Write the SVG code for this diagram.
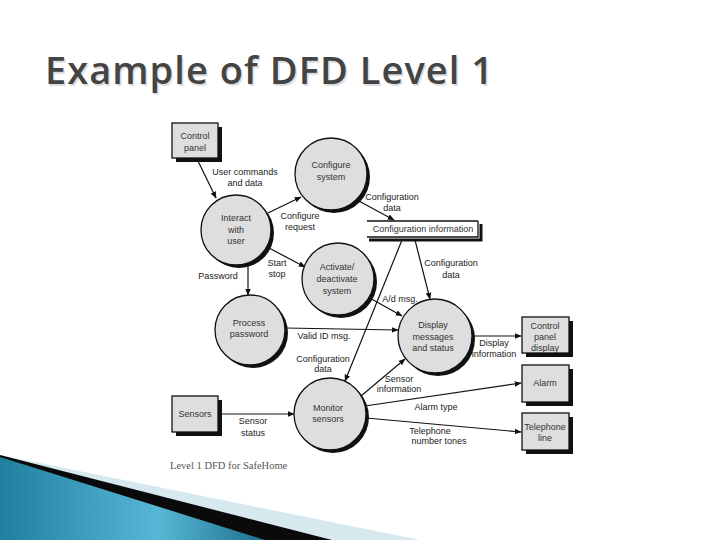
<svg xmlns="http://www.w3.org/2000/svg" width="720" height="540" viewBox="0 0 720 540">
<defs>
<marker id="ah" viewBox="0 0 10 10" refX="9" refY="5" markerWidth="7" markerHeight="7" markerUnits="userSpaceOnUse" orient="auto"><path d="M0,1 L10,5 L0,9 Z" fill="#111"/></marker>
<linearGradient id="blue" x1="0" y1="0" x2="1" y2="0">
<stop offset="0" stop-color="#1f7f9f"/>
<stop offset="0.6" stop-color="#56b8d6"/>
<stop offset="1" stop-color="#1c6f8d"/>
</linearGradient>
<style>
.t{font-family:"Liberation Sans","DejaVu Sans",sans-serif;font-size:9px;fill:#222;text-anchor:middle}
.n{font-family:"Liberation Sans","DejaVu Sans",sans-serif;font-size:9px;fill:#333;text-anchor:middle}
.c{fill:#dedede;stroke:#111;stroke-width:1.3}
.sh{fill:#111}
.b{fill:#dedede;stroke:#111;stroke-width:1.3}
.e{stroke:#111;stroke-width:1.2;fill:none;marker-end:url(#ah)}
</style>
</defs>
<rect width="720" height="540" fill="#fff"/>
<g id="title">
<text x="46.5" y="85.5" font-family="'Open Sans','DejaVu Sans',sans-serif" font-size="38" font-weight="600" fill="#dedede" textLength="448">Example of DFD Level 1</text>
<text x="45" y="84" font-family="'Open Sans','DejaVu Sans',sans-serif" font-size="38" font-weight="600" fill="#444" textLength="448">Example of DFD Level 1</text>
</g>
<g id="decoration">
<polygon points="0,455 420,540 0,540" fill="#d6e9ef"/>
<polygon points="0,455 332,540 0,540" fill="#0a0a0a"/>
<polygon points="0,457 265,540 0,540" fill="url(#blue)"/>
</g>
<g id="connectors">
<path class="e" d="M198,161 L216,198"/>
<path class="e" d="M268,213 L301,197"/>
<path class="e" d="M269,248 L305,267"/>
<path class="e" d="M248,265 L248,295"/>
<path class="e" d="M357,200 L394,220"/>
<path class="e" d="M415,240 L430,299"/>
<path class="e" d="M402,240 L345,381"/>
<path class="e" d="M368,297 L402,316"/>
<path class="e" d="M285,328 L398,330"/>
<path class="e" d="M361,396 L405,359"/>
<path class="e" d="M365,406 L521,383"/>
<path class="e" d="M366,418 L521,432"/>
<path class="e" d="M219,414 L294,414"/>
<path class="e" d="M472,336 L521,336"/>
<text class="t" x="245" y="175">User commands</text>
<text class="t" x="245" y="186">and data</text>
<text class="t" x="300" y="219">Configure</text>
<text class="t" x="300" y="230">request</text>
<text class="t" x="277" y="266">Start</text>
<text class="t" x="277" y="277">stop</text>
<text class="t" x="218" y="279">Password</text>
<text class="t" x="392" y="200">Configuration</text>
<text class="t" x="392" y="211">data</text>
<text class="t" x="451" y="266">Configuration</text>
<text class="t" x="451" y="278">data</text>
<text class="t" x="400" y="302">A/d msg.</text>
<text class="t" x="324" y="339">Valid ID msg.</text>
<text class="t" x="323" y="362">Configuration</text>
<text class="t" x="323" y="372">data</text>
<text class="t" x="399" y="382">Sensor</text>
<text class="t" x="399" y="392">information</text>
<text class="t" x="253" y="424">Sensor</text>
<text class="t" x="253" y="436">status</text>
<text class="t" x="436" y="410">Alarm type</text>
<text class="t" x="430" y="434">Telephone</text>
<text class="t" x="439" y="444">number tones</text>
<text class="t" x="494" y="346">Display</text>
<text class="t" x="494" y="357">information</text>
</g>
<g id="control-panel">
<rect class="sh" x="176" y="127" width="46" height="35"/>
<rect class="b" x="172" y="123" width="46" height="35"/>
<text class="n" x="195" y="139">Control</text>
<text class="n" x="195" y="151">panel</text>
</g>
<g id="sensors">
<rect class="sh" x="176" y="400" width="46" height="36"/>
<rect class="b" x="172" y="396" width="46" height="36"/>
<text class="n" x="195" y="417">Sensors</text>
</g>
<g id="control-panel-display">
<rect class="sh" x="526" y="321" width="47" height="36"/>
<rect class="b" x="522" y="317" width="47" height="36"/>
<text class="n" x="545" y="329">Control</text>
<text class="n" x="545" y="340">panel</text>
<text class="n" x="545" y="351">display</text>
</g>
<g id="alarm">
<rect class="sh" x="526" y="369" width="47" height="37"/>
<rect class="b" x="522" y="365" width="47" height="37"/>
<text class="n" x="545" y="386">Alarm</text>
</g>
<g id="telephone-line">
<rect class="sh" x="526" y="417" width="47" height="37"/>
<rect class="b" x="522" y="413" width="47" height="37"/>
<text class="n" x="545" y="430">Telephone</text>
<text class="n" x="545" y="441">line</text>
</g>
<g id="configure-system">
<circle class="sh" cx="334" cy="177" r="36"/>
<circle class="c" cx="331" cy="174" r="36"/>
<text class="n" x="331" y="168">Configure</text>
<text class="n" x="331" y="180">system</text>
</g>
<g id="interact-with-user">
<circle class="sh" cx="239" cy="233" r="35"/>
<circle class="c" cx="236" cy="230" r="35"/>
<text class="n" x="236" y="221">Interact</text>
<text class="n" x="236" y="233">with</text>
<text class="n" x="236" y="244">user</text>
</g>
<g id="activate-deactivate-system">
<circle class="sh" cx="341" cy="282" r="36"/>
<circle class="c" cx="338" cy="279" r="36"/>
<text class="n" x="337" y="270">Activate/</text>
<text class="n" x="337" y="282">deactivate</text>
<text class="n" x="337" y="294">system</text>
</g>
<g id="process-password">
<circle class="sh" cx="253" cy="333" r="35"/>
<circle class="c" cx="250" cy="330" r="35"/>
<text class="n" x="249" y="326">Process</text>
<text class="n" x="249" y="337">password</text>
</g>
<g id="display-messages">
<circle class="sh" cx="438" cy="339" r="37"/>
<circle class="c" cx="435" cy="336" r="37"/>
<text class="n" x="433" y="328">Display</text>
<text class="n" x="433" y="340">messages</text>
<text class="n" x="433" y="351">and status</text>
</g>
<g id="monitor-sensors">
<circle class="sh" cx="333" cy="417" r="36"/>
<circle class="c" cx="330" cy="414" r="36"/>
<text class="n" x="328" y="411">Monitor</text>
<text class="n" x="328" y="422">sensors</text>
</g>
<g id="configuration-information">
<path d="M369,240 L481,240 L481,224" stroke="#111" stroke-width="3" fill="none"/>
<path d="M367,221 L478,221 M367,237 L478,237 L478,221" stroke="#111" stroke-width="1.3" fill="none"/>
<text class="n" x="423" y="232">Configuration information</text>
</g>
<g id="caption">
<text x="170" y="469" font-family="'Liberation Serif','DejaVu Serif',serif" font-size="10.5" fill="#555">Level 1 DFD for SafeHome</text>
</g>
</svg>
